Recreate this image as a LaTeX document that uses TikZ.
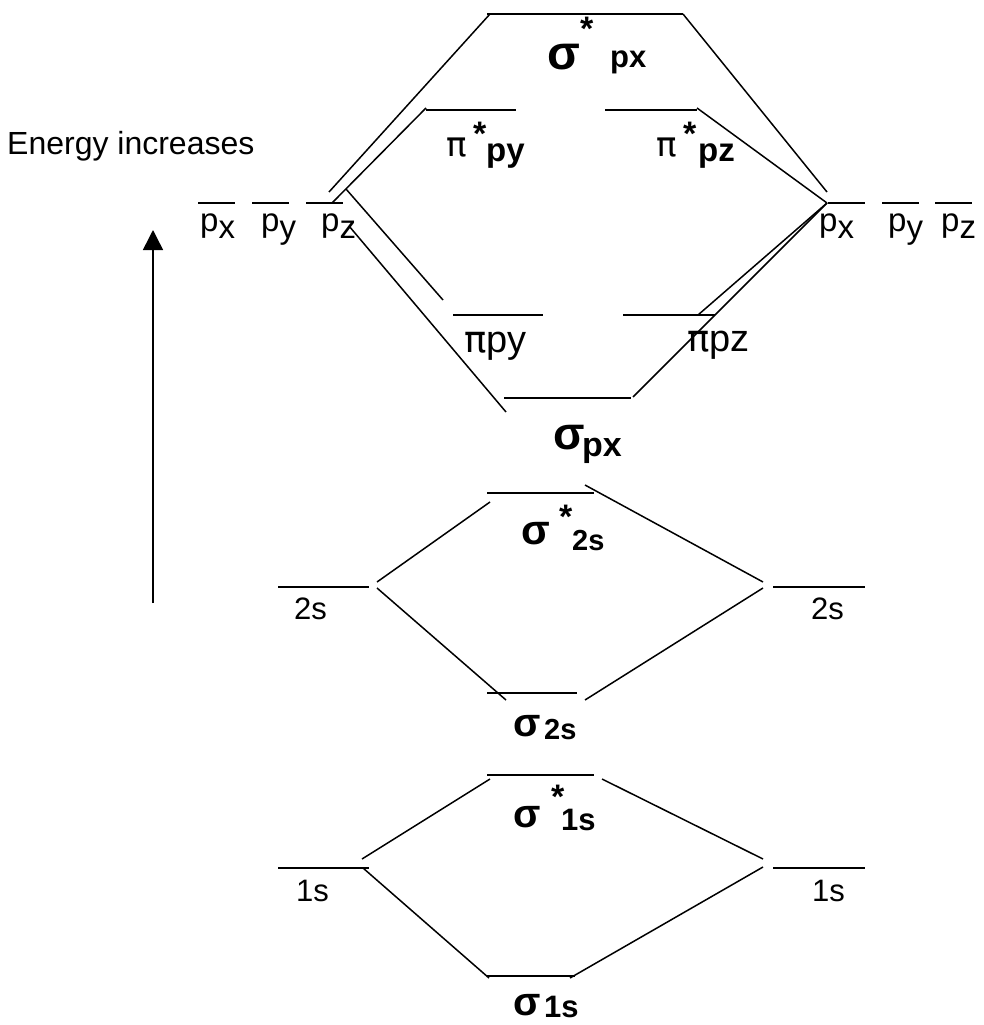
\documentclass[tikz,border=0pt]{standalone}
\usepackage{fontspec}
\setmainfont{Liberation Sans}
\newfontfamily\pifont{DejaVu Sans}
\usetikzlibrary{arrows.meta}

\newcommand{\fs}[1]{\fontsize{#1}{#1}\selectfont}
% greek, star dx, star raise, sub dx, sub drop, sub
\newcommand{\orb}[6]{\rlap{#1}\rlap{\hspace{#2}\raisebox{#3}{\fs{34}\bfseries *}}\hspace{#4}\raisebox{-#5}{#6}}
% greek, sub dx, sub drop, sub
\newcommand{\orbs}[4]{\rlap{#1}\hspace{#2}\raisebox{-#3}{#4}}

\begin{document}
\begin{tikzpicture}[
    x=1pt, y=-1pt,
    level/.style={line width=1.5pt},
    link/.style={line width=1.5pt},
    lab/.style={anchor=base west, inner sep=0pt}
  ]
  \useasboundingbox (0,0) rectangle (984,1025);

  % Energy axis
  \coordinate (elow) at (153,603);
  \coordinate (ehigh) at (153,230);
  \draw[link, -{Triangle[length=20pt,width=20pt]}] (elow) -- (ehigh);
  \node[lab] (energy) at (7,154) {\fs{32}Energy increases};

  % Levels
  \foreach \a/\b/\y in {487/683/14, 426/516/110, 605/697/110,
                        198/235/203, 252/289/203, 306/343/203,
                        828/865/203, 882/919/203, 935/972/203,
                        453/543/315, 623/715/315, 504/631/398,
                        487/594/493, 278/369/587, 773/865/587, 487/577/693,
                        487/594/775, 278/369/868, 773/865/868, 487/575/976} {
    \draw[level] (\a,\y) -- (\b,\y);
  }

  % 2p block
  \coordinate (lpa) at (329,192);  \coordinate (sxl) at (490,14);
  \coordinate (lpb) at (332,203);  \coordinate (pyal) at (426,108);
  \coordinate (lpc) at (346,189);  \coordinate (pybl) at (443,300);
  \coordinate (lpd) at (349,226);  \coordinate (sbl) at (506,412);
  \coordinate (sxr) at (683,14);   \coordinate (rpa) at (827,192);
  \coordinate (pzar) at (697,108); \coordinate (rpb) at (827,203);
  \coordinate (pzbr) at (698,315); \coordinate (sbr) at (633,397);
  \draw[link] (lpa) -- (sxl);
  \draw[link] (lpb) -- (pyal);
  \draw[link] (lpc) -- (pybl);
  \draw[link] (lpd) -- (sbl);
  \draw[link] (sxr) -- (rpa);
  \draw[link] (pzar) -- (rpb);
  \draw[link] (pzbr) -- (rpb);
  \draw[link] (sbr) -- (rpb);

  % 2s block
  \coordinate (l2a) at (377,582); \coordinate (s2al) at (490,502);
  \coordinate (l2b) at (377,588); \coordinate (s2bl) at (506,700);
  \coordinate (s2ar) at (585,485); \coordinate (r2a) at (763,582);
  \coordinate (s2br) at (585,700); \coordinate (r2b) at (763,588);
  \draw[link] (l2a) -- (s2al);
  \draw[link] (l2b) -- (s2bl);
  \draw[link] (s2ar) -- (r2a);
  \draw[link] (s2br) -- (r2b);

  % 1s block
  \coordinate (l1a) at (362,859); \coordinate (s1al) at (490,779);
  \coordinate (l1b) at (363,868); \coordinate (s1bl) at (489,978);
  \coordinate (s1ar) at (602,779); \coordinate (r1a) at (763,859);
  \coordinate (s1br) at (570,978); \coordinate (r1b) at (763,867);
  \draw[link] (l1a) -- (s1al);
  \draw[link] (l1b) -- (s1bl);
  \draw[link] (s1ar) -- (r1a);
  \draw[link] (s1br) -- (r1b);

  % Atomic labels
  \foreach \x/\s [count=\i] in {200/x, 261/y, 321/z}
    \node[lab] (lp\i) at (\x,231) {\fs{33}p\raisebox{-7pt}{\s}};
  \foreach \x/\s [count=\i] in {819/x, 888/y, 941/z}
    \node[lab] (rp\i) at (\x,231) {\fs{33}p\raisebox{-7pt}{\s}};
  \node[lab] (l2s) at (294,619) {\fs{31}2s};
  \node[lab] (r2s) at (811,619) {\fs{31}2s};
  \node[lab] (l1s) at (296,901) {\fs{31}1s};
  \node[lab] (r1s) at (812,901) {\fs{31}1s};

  % Molecular labels
  \node[lab] (lsxp) at (547,70) {\orb{\fs{48}\bfseries σ}{33pt}{29pt}{63pt}{-2pt}{\fs{31}\bfseries px}};
  \node[lab] (lpya) at (446,156) {\orb{\pifont\fs{34}π}{27pt}{11pt}{40pt}{5pt}{\fs{33}\bfseries py}};
  \node[lab] (lpza) at (656,156) {\orb{\pifont\fs{34}π}{27pt}{11pt}{42pt}{5pt}{\fs{33}\bfseries pz}};
  \node[lab] (lpyb) at (464,352) {\orbs{\pifont\fs{37}π}{22pt}{0pt}{\fs{38}py}};
  \node[lab] (lpzb) at (687,351) {\orbs{\pifont\fs{37}π}{22pt}{0pt}{\fs{38}pz}};
  \node[lab] (lsp) at (553,449) {\orbs{\fs{46}\bfseries σ}{29pt}{7pt}{\fs{34}\bfseries px}};
  \node[lab] (ls2a) at (521,544) {\orb{\fs{42}\bfseries σ}{38pt}{16pt}{51pt}{6pt}{\fs{29}\bfseries 2s}};
  \node[lab] (ls2b) at (513,736) {\orbs{\fs{40}\bfseries σ}{31pt}{3pt}{\fs{29}\bfseries 2s}};
  \node[lab] (ls1a) at (513,827) {\orb{\fs{40}\bfseries σ}{38pt}{19pt}{48pt}{3pt}{\fs{31}\bfseries 1s}};
  \node[lab] (ls1b) at (513,1015) {\orbs{\fs{40}\bfseries σ}{31pt}{2pt}{\fs{31}\bfseries 1s}};
\end{tikzpicture}
\end{document}
